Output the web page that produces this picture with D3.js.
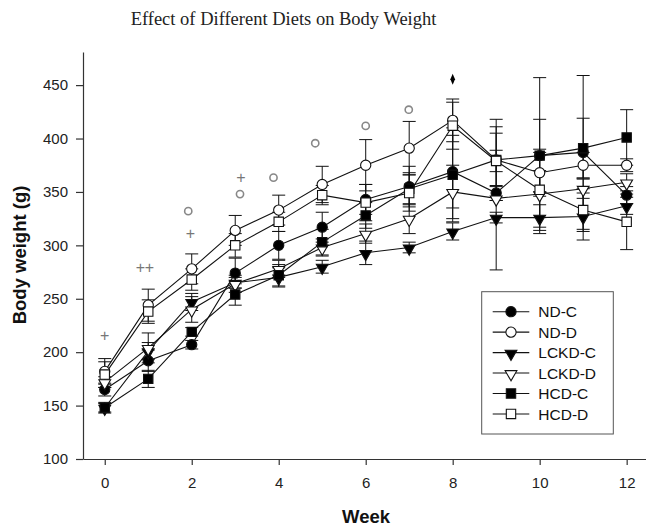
<!DOCTYPE html>
<html>
<head>
<meta charset="utf-8">
<script src="https://cdn.jsdelivr.net/npm/d3@7"></script>
<style>
  body { margin: 0; background: #fff; }
  svg { display: block; }
</style>
</head>
<body>
<svg id="chart" width="646" height="528"></svg>
<script>
// ---------- data ----------
const weeks = [0,1,2,3,4,5,6,7,8,9,10,11,12];
const seriesNames = ["ND-C","ND-D","LCKD-C","LCKD-D","HCD-C","HCD-D"];

const ndC    = [165,192,207,274,300,317,343,355,369,349,384,387,347];
const ndD    = [182,244,278,314,333,357,375,391,417,380,368,375,375];
const lckdC  = [148,201,247,265,270,280,293,298,313,326,326,327,337];
const lckdD  = [172,204,240,264,278,298,311,325,350,344,348,353,359];
const hcdC   = [148,175,219,254,272,303,328,353,366,380,384,391,401];
const hcdD   = [179,238,268,300,322,347,340,349,412,379,352,333,322];

const ndC_se   = [6,10,4,14,13,14,14,19,34,7,73,72,8];
const ndD_se   = [12,15,14,14,14,17,24,25,20,38,22,12,6];
const lckdC_se = [4,8,8,5,9,6,11,5,8,5,12,22,8];
const lckdD_se = [5,14,12,8,8,8,9,14,25,67,22,9,8];
const hcdC_se  = [5,8,4,10,10,12,12,15,44,25,34,28,26];
const hcdD_se  = [12,11,10,11,9,9,17,17,22,10,35,20,26];

const yTicks = [100,150,200,250,300,350,400,450];
const xTicks = [0,2,4,6,8,10,12];

// significance markers (week, value)
const plusMarks    = [[0,216],[0.82,279.5],[1.03,279.5],[1.97,311],[3.13,363.4]];
const circleMarks  = [[1.92,332],[3.11,348],[3.88,363.4],[4.84,395.6],[6.0,411.8],[6.99,427]];
const diamondMarks = [[8,455.5]];

const titleText = "Effect of Different Diets on Body Weight";
const xLabel = "Week";
const yLabel = "Body weight (g)";

// ---------- build ----------
const series = [
  {name: seriesNames[0], values: ndC,   se: ndC_se,   shape: "circle",   fill: "#000"},
  {name: seriesNames[1], values: ndD,   se: ndD_se,   shape: "circle",   fill: "#fff"},
  {name: seriesNames[2], values: lckdC, se: lckdC_se, shape: "triangle", fill: "#000"},
  {name: seriesNames[3], values: lckdD, se: lckdD_se, shape: "triangle", fill: "#fff"},
  {name: seriesNames[4], values: hcdC,  se: hcdC_se,  shape: "square",   fill: "#000"},
  {name: seriesNames[5], values: hcdD,  se: hcdD_se,  shape: "square",   fill: "#fff"}
];

const svg = d3.select("#chart");
const x = d3.scaleLinear().domain([-0.5, 12.44]).range([83, 645.8]);
const y = d3.scaleLinear().domain([100, 481]).range([459, 52]);

const sym = {
  circle: d3.symbol().type(d3.symbolCircle).size(82),
  square: d3.symbol().type(d3.symbolSquare).size(88),
  triangle: d3.symbol().type(d3.symbolTriangle).size(60)
};
function symbolPath(shape){ return sym[shape](); }
function symbolTransform(shape, px, py){
  return shape === "triangle" ? `translate(${px},${py+1}) rotate(180)` : `translate(${px},${py})`;
}

// title
svg.append("text")
  .attr("x", 283.5).attr("y", 25)
  .attr("text-anchor", "middle")
  .attr("font-family", "'Liberation Serif','Times New Roman',serif")
  .attr("font-size", 18.5)
  .attr("fill", "#222")
  .text(titleText);

// axes
const axisFont = "'Liberation Sans',Arial,sans-serif";
const yAxis = svg.append("g").attr("transform", "translate(83,0)")
  .call(d3.axisLeft(y).tickValues(yTicks).tickSize(7).tickSizeOuter(0).tickPadding(8).tickFormat(d3.format("d")));
const xAxis = svg.append("g").attr("transform", "translate(0,459)")
  .call(d3.axisBottom(x).tickValues(xTicks).tickSize(6).tickSizeOuter(0).tickPadding(12).tickFormat(d3.format("d")));
[yAxis, xAxis].forEach(g => {
  g.selectAll("text").attr("font-family", axisFont).attr("font-size", 15).attr("fill", "#222");
  g.selectAll("path,line").attr("stroke", "#333").attr("stroke-width", 1.2);
});

svg.append("text")
  .attr("x", 366).attr("y", 523)
  .attr("text-anchor", "middle")
  .attr("font-family", axisFont).attr("font-weight", "bold").attr("font-size", 18.5)
  .attr("fill", "#111")
  .text(xLabel);
svg.append("text")
  .attr("transform", "translate(25.5,255) rotate(-90)")
  .attr("text-anchor", "middle")
  .attr("font-family", axisFont).attr("font-weight", "bold").attr("font-size", 18.5)
  .attr("fill", "#111")
  .text(yLabel);

const plot = svg.append("g");

// error bars
series.forEach(s => {
  const g = plot.append("g").attr("stroke", "#111").attr("stroke-width", 1).attr("fill", "none");
  weeks.forEach((w, i) => {
    const px = x(w), hi = y(s.values[i] + s.se[i]), lo = y(s.values[i] - s.se[i]);
    g.append("line").attr("x1", px).attr("x2", px).attr("y1", hi).attr("y2", lo);
    g.append("line").attr("x1", px - 6.5).attr("x2", px + 6.5).attr("y1", hi).attr("y2", hi);
    g.append("line").attr("x1", px - 6.5).attr("x2", px + 6.5).attr("y1", lo).attr("y2", lo);
  });
});

// lines
const line = d3.line().x((d, i) => x(weeks[i])).y(d => y(d));
series.forEach(s => {
  plot.append("path").attr("d", line(s.values))
    .attr("fill", "none").attr("stroke", "#111").attr("stroke-width", 1.1);
});

// markers
series.forEach(s => {
  plot.append("g").selectAll("path").data(s.values).join("path")
    .attr("d", symbolPath(s.shape))
    .attr("transform", (d, i) => symbolTransform(s.shape, x(weeks[i]), y(d)))
    .attr("fill", s.fill).attr("stroke", "#111").attr("stroke-width", 1.1);
});

// significance markers
const sig = svg.append("g");
sig.selectAll("text.plus").data(plusMarks).join("text")
  .attr("class", "plus")
  .attr("x", d => x(d[0])).attr("y", d => y(d[1]))
  .attr("dy", "0.35em")
  .attr("text-anchor", "middle")
  .attr("font-family", axisFont).attr("font-size", 16)
  .attr("fill", "#777")
  .text("+");
sig.selectAll("circle.sc").data(circleMarks).join("circle")
  .attr("class", "sc")
  .attr("cx", d => x(d[0])).attr("cy", d => y(d[1]))
  .attr("r", 3.6)
  .attr("fill", "none").attr("stroke", "#888").attr("stroke-width", 1.6);
sig.selectAll("path.dm").data(diamondMarks).join("path")
  .attr("class", "dm")
  .attr("d", d3.symbol().type(d3.symbolDiamond).size(26)())
  .attr("transform", d => `translate(${x(d[0])},${y(d[1])}) scale(0.85,1.15)`)
  .attr("fill", "#000");

// legend
const lg = svg.append("g");
lg.append("rect").attr("x", 481.7).attr("y", 291.7).attr("width", 131.6).attr("height", 142.3)
  .attr("fill", "#fff").attr("stroke", "#555").attr("stroke-width", 1);
series.forEach((s, i) => {
  const ly = 311.7 + i * 20.45;
  lg.append("line").attr("x1", 492.7).attr("x2", 529.3).attr("y1", ly).attr("y2", ly)
    .attr("stroke", "#111").attr("stroke-width", 1.1);
  lg.append("path").attr("d", symbolPath(s.shape))
    .attr("transform", symbolTransform(s.shape, 511, ly))
    .attr("fill", s.fill).attr("stroke", "#111").attr("stroke-width", 1.1);
  lg.append("text").attr("x", 538.3).attr("y", ly).attr("dy", "0.36em")
    .attr("font-family", axisFont).attr("font-size", 15.5).attr("fill", "#111")
    .text(s.name);
});
</script>
</body>
</html>
